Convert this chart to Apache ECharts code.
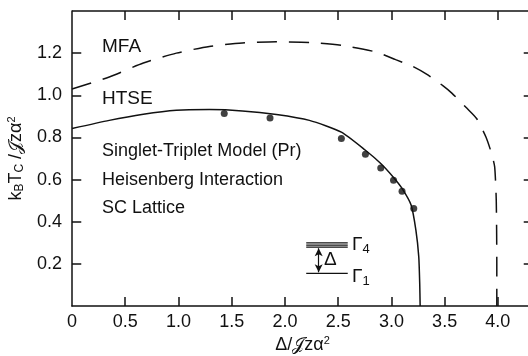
<!DOCTYPE html>
<html>
<head>
<meta charset="utf-8">
<script src="https://cdn.jsdelivr.net/npm/echarts@6/dist/echarts.min.js"></script>
<style>
html,body{margin:0;padding:0;background:#fff;}
#chart{width:528px;height:356px;}
</style>
</head>
<body>
<div id="chart"></div>
<script>
// HTSE curve (solid)
var htseX = [0, 0.35, 0.67, 0.98, 1.29, 1.6, 1.92, 2.23, 2.53, 2.756, 2.9, 3.02, 3.1, 3.185, 3.23, 3.257, 3.266, 3.27];
var htseY = [0.842, 0.881, 0.91, 0.929, 0.932, 0.926, 0.909, 0.881, 0.825, 0.739, 0.676, 0.61, 0.558, 0.479, 0.36, 0.234, 0.107, 0];
// MFA curve (dashed)
var mfaX = [0, 0.35, 0.67, 0.98, 1.29, 1.6, 1.92, 2.23, 2.54, 2.86, 3.04, 3.2, 3.33, 3.48, 3.57, 3.71, 3.8, 3.89, 3.94, 3.97, 3.985, 3.99, 3.99];
var mfaY = [1.03, 1.087, 1.153, 1.2, 1.232, 1.248, 1.254, 1.251, 1.236, 1.205, 1.169, 1.137, 1.10, 1.047, 1.009, 0.938, 0.89, 0.80, 0.725, 0.66, 0.5, 0.2, 0];
// experimental points
var dotX = [1.43, 1.86, 2.53, 2.756, 2.90, 3.02, 3.10, 3.21];
var dotY = [0.913, 0.892, 0.795, 0.72, 0.655, 0.597, 0.545, 0.463];
// level scheme inset (Gamma4 triplet, Gamma1 singlet)
var levelSpan = [2.2, 2.59];
var levelsG4 = [0.300, 0.289, 0.279];
var levelG1 = 0.155;
var xTicks = ['0', '0.5', '1.0', '1.5', '2.0', '2.5', '3.0', '3.5', '4.0'];
var yTicks = ['0.2', '0.4', '0.6', '0.8', '1.0', '1.2'];

var X_MAX = 4.33, Y_MAX = 1.4;
// tick lengths in axis units (about 9-10 px)
var TICK_X = 0.087, TICK_Y = 0.043;

function pairs(xs, ys){
    return xs.map(function(x, i){ return [x, ys[i]]; });
}

var font = 'Liberation Sans';
var black = '#111';

var levelSeries = levelsG4.concat([levelG1]).map(function(v, i){
    var s = {
        type: 'line', silent: true, symbol: 'none', animation: false,
        data: [[levelSpan[0], v], [levelSpan[1], v]],
        lineStyle: {color: black, width: 1.2}
    };
    if (i === 0) {
        s.markLine = {
            silent: true, symbol: ['arrow', 'arrow'], symbolSize: [6, 8],
            label: {show: false},
            lineStyle: {color: black, width: 1.2, type: 'solid'},
            data: [[{coord: [2.317, levelsG4[2] - 0.005]}, {coord: [2.317, levelG1 + 0.005]}]]
        };
    }
    return s;
});

// inward ticks on all four sides plus the top frame line
var frameSegs = [[{coord: [0, Y_MAX]}, {coord: [X_MAX, Y_MAX]}]];
for (var i = 1; i < xTicks.length; i++) {
    frameSegs.push([{coord: [i * 0.5, 0]}, {coord: [i * 0.5, TICK_Y]}]);
    frameSegs.push([{coord: [i * 0.5, Y_MAX]}, {coord: [i * 0.5, Y_MAX - TICK_Y]}]);
}
for (var j = 1; j <= yTicks.length; j++) {
    frameSegs.push([{coord: [0, j * 0.2]}, {coord: [TICK_X, j * 0.2]}]);
    frameSegs.push([{coord: [X_MAX, j * 0.2]}, {coord: [X_MAX - TICK_X, j * 0.2]}]);
}
var frameSeries = {
    type: 'line', silent: true, symbol: 'none', clip: false,
    data: [[0, 0], [0, 0]],
    lineStyle: {color: black, width: 1.5},
    markLine: {
        silent: true, symbol: ['none', 'none'], label: {show: false},
        lineStyle: {color: black, width: 1.5, type: 'solid'},
        data: frameSegs
    }
};

var chart = echarts.init(document.getElementById('chart'));
var option = {
    animation: false,
    grid: {left: 72, right: -5, top: 11, bottom: 50, outerBoundsMode: 'none'},
    xAxis: {
        type: 'value', min: 0, max: X_MAX, interval: 0.5,
        name: 'Δ/𝒥zα{sup|2}', nameLocation: 'middle', nameGap: 27,
        nameTextStyle: {fontFamily: font, fontSize: 18, color: black,
            rich: {sup: {fontSize: 11, verticalAlign: 'top', padding: [0, 0, 8, 0], color: black}}},
        axisLine: {lineStyle: {color: black, width: 1.5}},
        axisTick: {show: false},
        axisLabel: {fontFamily: font, fontSize: 18, color: black, margin: 7,
            formatter: function(v){ var i = Math.round(v / 0.5); return Math.abs(v - i * 0.5) < 1e-6 && i < xTicks.length ? xTicks[i] : ''; }},
        splitLine: {show: false}
    },
    yAxis: {
        type: 'value', min: 0, max: Y_MAX, interval: 0.2,
        name: 'k{sub|B}T{sub|C} /𝒥zα{sup|2}', nameLocation: 'middle', nameGap: 45,
        nameTextStyle: {fontFamily: font, fontSize: 18, color: black,
            rich: {
                sub: {fontSize: 12, verticalAlign: 'bottom', padding: [8, 0, 0, 0], color: black},
                sup: {fontSize: 11, verticalAlign: 'top', padding: [0, 0, 8, 0], color: black}
            }},
        axisLine: {lineStyle: {color: black, width: 1.5}},
        axisTick: {show: false},
        axisLabel: {fontFamily: font, fontSize: 18, color: black, margin: 10,
            formatter: function(v){ var i = Math.round(v / 0.2) - 1; return i >= 0 && i < yTicks.length ? yTicks[i] : ''; }},
        splitLine: {show: false}
    },
    series: [{
        name: 'MFA', type: 'line', data: pairs(mfaX, mfaY), symbol: 'none',
        smooth: 0.2,
        lineStyle: {color: black, width: 1.5, type: [20, 12]}
    }, {
        name: 'HTSE', type: 'line', data: pairs(htseX, htseY), symbol: 'none',
        smooth: 0.2,
        lineStyle: {color: black, width: 1.5}
    }, {
        name: 'exp', type: 'scatter', data: pairs(dotX, dotY),
        symbolSize: 7, itemStyle: {color: black}
    }, frameSeries].concat(levelSeries),
    graphic: [
        {type: 'text', left: 102, top: 37, style: {text: 'MFA', fontFamily: font, fontSize: 19, fill: black}},
        {type: 'text', left: 102, top: 89, style: {text: 'HTSE', fontFamily: font, fontSize: 19, fill: black}},
        {type: 'text', left: 102, top: 142, style: {text: 'Singlet-Triplet Model (Pr)', fontFamily: font, fontSize: 18, fill: black}},
        {type: 'text', left: 102, top: 171, style: {text: 'Heisenberg Interaction', fontFamily: font, fontSize: 18, fill: black}},
        {type: 'text', left: 102, top: 199, style: {text: 'SC Lattice', fontFamily: font, fontSize: 18, fill: black}},
        {type: 'text', left: 324, top: 250, style: {text: 'Δ', fontFamily: font, fontSize: 19, fill: black}},
        {type: 'text', left: 352, top: 235, style: {text: 'Γ{s|4}', fontFamily: font, fontSize: 19, fill: black,
            rich: {s: {fontSize: 13, verticalAlign: 'bottom', padding: [10, 0, 0, 0], fill: black}}}},
        {type: 'text', left: 352, top: 267, style: {text: 'Γ{s|1}', fontFamily: font, fontSize: 19, fill: black,
            rich: {s: {fontSize: 13, verticalAlign: 'bottom', padding: [10, 0, 0, 0], fill: black}}}}
    ]
};
chart.setOption(option);
</script>
</body>
</html>
